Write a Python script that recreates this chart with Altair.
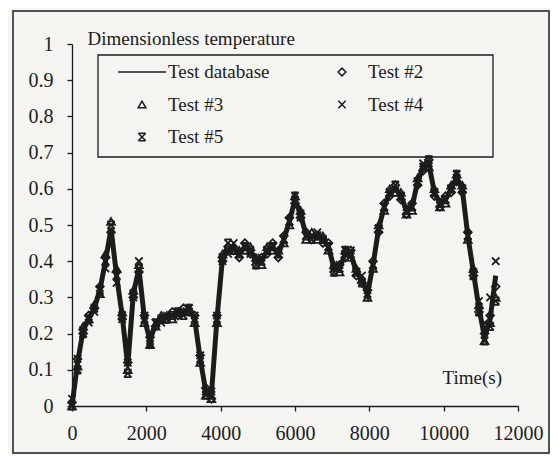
import altair as alt
import pandas as pd

# ---- data ----
times = [0, 150, 300, 450, 600, 750, 900, 1050, 1200, 1350,
         1500, 1650, 1800, 1950, 2100, 2250, 2400, 2550, 2700, 2850,
         3000, 3150, 3300, 3450, 3600, 3750, 3900, 4050, 4200, 4350,
         4500, 4650, 4800, 4950, 5100, 5250, 5400, 5550, 5700, 5850,
         6000, 6150, 6300, 6450, 6600, 6750, 6900, 7050, 7200, 7350,
         7500, 7650, 7800, 7950, 8100, 8250, 8400, 8550, 8700, 8850,
         9000, 9150, 9300, 9450, 9600, 9750, 9900, 10050, 10200, 10350,
         10500, 10650, 10800, 10950, 11100, 11250, 11400]

names = ["Test database", "Test #2", "Test #3", "Test #4", "Test #5"]

database = [0.00, 0.12, 0.21, 0.24, 0.27, 0.32, 0.40, 0.49, 0.36, 0.25,
            0.11, 0.31, 0.38, 0.24, 0.18, 0.23, 0.24, 0.25, 0.25, 0.26,
            0.26, 0.27, 0.24, 0.13, 0.04, 0.03, 0.24, 0.41, 0.43, 0.44,
            0.42, 0.44, 0.43, 0.40, 0.40, 0.43, 0.44, 0.42, 0.46, 0.51,
            0.57, 0.53, 0.47, 0.47, 0.47, 0.46, 0.44, 0.38, 0.38, 0.42,
            0.42, 0.37, 0.35, 0.31, 0.39, 0.49, 0.55, 0.59, 0.60, 0.58,
            0.54, 0.55, 0.62, 0.66, 0.67, 0.59, 0.56, 0.57, 0.60, 0.63,
            0.60, 0.47, 0.37, 0.27, 0.19, 0.24, 0.36]

test2 = [0.01, 0.13, 0.20, 0.25, 0.27, 0.33, 0.41, 0.48, 0.37, 0.24,
         0.12, 0.30, 0.37, 0.25, 0.19, 0.22, 0.24, 0.24, 0.26, 0.25,
         0.27, 0.26, 0.25, 0.14, 0.05, 0.02, 0.25, 0.40, 0.44, 0.43,
         0.41, 0.45, 0.42, 0.39, 0.41, 0.42, 0.45, 0.41, 0.47, 0.52,
         0.56, 0.52, 0.48, 0.46, 0.47, 0.45, 0.45, 0.37, 0.39, 0.41,
         0.43, 0.36, 0.34, 0.32, 0.40, 0.48, 0.56, 0.58, 0.61, 0.57,
         0.53, 0.56, 0.61, 0.65, 0.68, 0.58, 0.55, 0.58, 0.59, 0.62,
         0.59, 0.48, 0.36, 0.26, 0.20, 0.25, 0.33]

test3 = [0.00, 0.11, 0.22, 0.24, 0.28, 0.31, 0.42, 0.51, 0.38, 0.26,
         0.10, 0.32, 0.39, 0.23, 0.17, 0.22, 0.25, 0.25, 0.24, 0.26,
         0.26, 0.27, 0.23, 0.12, 0.03, 0.02, 0.23, 0.42, 0.44, 0.44,
         0.43, 0.43, 0.44, 0.41, 0.39, 0.44, 0.43, 0.43, 0.45, 0.50,
         0.58, 0.54, 0.46, 0.48, 0.46, 0.47, 0.43, 0.39, 0.37, 0.43,
         0.41, 0.38, 0.35, 0.30, 0.38, 0.50, 0.54, 0.60, 0.59, 0.59,
         0.53, 0.54, 0.63, 0.66, 0.66, 0.60, 0.55, 0.56, 0.61, 0.64,
         0.61, 0.46, 0.38, 0.28, 0.18, 0.23, 0.30]

test4 = [0.02, 0.13, 0.21, 0.23, 0.26, 0.31, 0.38, 0.45, 0.34, 0.24,
         0.12, 0.30, 0.40, 0.25, 0.18, 0.23, 0.23, 0.25, 0.25, 0.25,
         0.26, 0.26, 0.25, 0.14, 0.04, 0.04, 0.25, 0.40, 0.42, 0.45,
         0.42, 0.44, 0.42, 0.40, 0.41, 0.43, 0.44, 0.42, 0.46, 0.51,
         0.57, 0.52, 0.47, 0.47, 0.48, 0.46, 0.44, 0.38, 0.39, 0.42,
         0.43, 0.37, 0.36, 0.32, 0.39, 0.49, 0.55, 0.59, 0.60, 0.58,
         0.55, 0.55, 0.62, 0.67, 0.67, 0.59, 0.57, 0.57, 0.60, 0.63,
         0.60, 0.47, 0.37, 0.29, 0.23, 0.30, 0.40]

test5 = [0.00, 0.10, 0.20, 0.24, 0.27, 0.32, 0.40, 0.50, 0.36, 0.25,
         0.09, 0.31, 0.38, 0.24, 0.17, 0.23, 0.24, 0.24, 0.25, 0.26,
         0.25, 0.27, 0.24, 0.13, 0.03, 0.03, 0.24, 0.41, 0.45, 0.43,
         0.42, 0.44, 0.43, 0.39, 0.40, 0.43, 0.44, 0.42, 0.46, 0.51,
         0.58, 0.53, 0.47, 0.46, 0.47, 0.46, 0.44, 0.37, 0.38, 0.43,
         0.42, 0.37, 0.34, 0.31, 0.39, 0.49, 0.55, 0.59, 0.61, 0.58,
         0.54, 0.55, 0.62, 0.66, 0.68, 0.59, 0.56, 0.57, 0.60, 0.64,
         0.60, 0.47, 0.36, 0.26, 0.18, 0.22, 0.29]

x_ticks = [0, 2000, 4000, 6000, 8000, 10000, 12000]
y_ticks = [0, 0.1, 0.2, 0.3, 0.4, 0.5, 0.6, 0.7, 0.8, 0.9, 1]

# ---- table ----
rows = []
for name, vals in zip(names, [database, test2, test3, test4, test5]):
    for t, v in zip(times, vals):
        rows.append({"time": t, "value": v, "series": name})
df = pd.DataFrame(rows)

ink = "#1c1c1c"
BG = "#f4f4f1"
FONT = "Liberation Serif"
X_PATH = "M-1,-1L1,1M-1,1L1,-1"
STAR_PATH = "M-1,-1L1,1M-1,1L1,-1M-1,-1L1,-1M-1,1L1,1"

color_scale = alt.Scale(domain=names, range=[ink] * 5)
shape_scale = alt.Scale(domain=names, range=["stroke", "diamond", "triangle-up", X_PATH, STAR_PATH])
size_scale = alt.Scale(type="ordinal", domain=names, range=[2300, 60, 60, 55, 55])

legend = alt.Legend(title=None, orient="none", legendX=45, legendY=17, columns=2,
                    direction="horizontal", clipHeight=22)

x_enc = alt.X("time:Q", scale=alt.Scale(domain=[0, 12000], nice=False),
              axis=alt.Axis(values=x_ticks, format="d", title="Time(s)",
                            labelFlush=False,
                            titleX=370, titleY=-29, titleAngle=0,
                            titleAlign="left", titleBaseline="middle"))
y_enc = alt.Y("value:Q", scale=alt.Scale(domain=[0, 1], nice=False),
              axis=alt.Axis(values=y_ticks, format=".1~f", title="Dimensionless temperature",
                            labelFlush=False,
                            titleX=15, titleY=-6, titleAngle=0,
                            titleAlign="left", titleBaseline="middle"))

line = alt.Chart(df).transform_filter(
    alt.datum.series == "Test database"
).mark_line(strokeWidth=5).encode(
    x=x_enc, y=y_enc,
    color=alt.Color("series:N", scale=color_scale, legend=legend),
)

points = alt.Chart(df).transform_filter(
    alt.datum.series != "Test database"
).mark_point(filled=False, strokeWidth=1.8, opacity=1).encode(
    x=x_enc, y=y_enc,
    color=alt.Color("series:N", scale=color_scale, legend=legend),
    shape=alt.Shape("series:N", scale=shape_scale, legend=legend),
    size=alt.Size("series:N", scale=size_scale, legend=legend),
)

decor = pd.DataFrame({"k": [0]})
frame = alt.Chart(decor).mark_rect(
    fillOpacity=0, stroke=ink, strokeWidth=1.5
).encode(
    x=alt.value(-59), x2=alt.value(477), y=alt.value(-33), y2=alt.value(409)
)
legend_box = alt.Chart(decor).mark_rect(
    fill=BG, stroke=ink, strokeWidth=1.3
).encode(
    x=alt.value(26), x2=alt.value(421), y=alt.value(11), y2=alt.value(113)
)

chart = alt.layer(frame, legend_box, line, points).properties(
    width=446, height=362,
    autosize=alt.AutoSizeParams(type="none"),
    padding={"left": 64, "top": 36, "right": 32, "bottom": 49},
    background=BG,
).configure_view(stroke=None).configure_axis(
    grid=False,
    domainColor=ink, domainWidth=1.3,
    tickColor=ink, tickWidth=1.3, tickSize=5,
    labelFont=FONT, labelFontSize=20, labelColor=ink,
    titleFont=FONT, titleFontSize=19, titleColor=ink, titleFontWeight="normal",
).configure_axisY(labelPadding=14).configure_axisX(labelPadding=12).configure_legend(
    labelFont=FONT, labelFontSize=19, labelColor=ink, labelOffset=1,
    symbolStrokeWidth=1.5, symbolOffset=0,
    padding=0, columnPadding=47, rowPadding=10.5,
)

chart.save("out.html", embed_options={"renderer": "svg", "actions": False})
